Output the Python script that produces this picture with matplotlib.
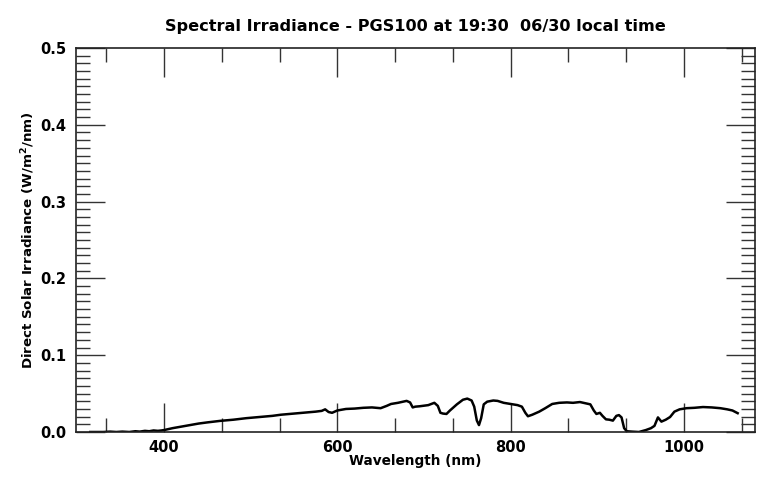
import numpy as np
import matplotlib
matplotlib.use("Agg")
import matplotlib.pyplot as plt
from matplotlib.ticker import MultipleLocator

# Data
wavelength = [315, 322, 330, 338, 345, 352, 360, 367, 372, 378, 383, 388, 393, 397,
              400, 410, 420, 430, 440, 450, 465, 480, 495, 510, 525, 535, 550, 565,
              575, 582, 586, 590, 594, 600, 610, 620, 630, 640, 650, 657, 662, 670,
              680, 684, 687, 690, 695, 705, 712, 716, 719, 722, 726, 730, 738, 745,
              750, 755, 758, 761, 763.5, 766, 769, 773, 780, 785, 792, 800, 808, 813,
              817, 820, 825, 833, 840, 848, 856, 865, 872, 880, 888, 892, 896, 899,
              903, 906, 910, 914, 918, 922, 925, 928, 931, 934, 940, 948, 956, 962,
              966, 970, 974, 979, 984, 989, 995, 1003, 1012, 1022, 1032, 1042, 1050,
              1056, 1062]
irradiance = [0.0, 0.0, 0.0, 0.0005, 0.0, 0.0005, 0.0, 0.001, 0.0005, 0.0015, 0.001,
              0.002, 0.0015, 0.002, 0.0025, 0.005, 0.007, 0.009, 0.011, 0.0125, 0.0145,
              0.016, 0.018, 0.0195, 0.021, 0.0225, 0.024, 0.0255, 0.0265, 0.0275, 0.0295,
              0.026, 0.025, 0.028, 0.030, 0.0305, 0.0315, 0.032, 0.031, 0.034, 0.0365,
              0.038, 0.0405, 0.0385, 0.032, 0.033, 0.0335, 0.035, 0.038, 0.034, 0.025,
              0.024, 0.0235, 0.028, 0.036, 0.042, 0.0435, 0.041, 0.033, 0.015, 0.009,
              0.018, 0.036, 0.0395, 0.041, 0.0405, 0.038, 0.0365, 0.035, 0.033, 0.025,
              0.0205, 0.0225, 0.0265, 0.031, 0.0365, 0.038, 0.0385, 0.038, 0.039, 0.037,
              0.036, 0.028, 0.0235, 0.025, 0.021, 0.0165, 0.016, 0.0148, 0.021, 0.022,
              0.019, 0.005, 0.001, 0.0005, 0.0, 0.0025, 0.005, 0.008, 0.019, 0.0135,
              0.016, 0.0195, 0.0265, 0.0295, 0.031, 0.0315, 0.0325, 0.032, 0.031,
              0.0295, 0.028, 0.0245]

plt.rcParams['font.family'] = ['DejaVu Sans']
plt.rcParams['font.weight'] = 'bold'

fig = plt.figure(figsize=(7.77, 4.80), dpi=100)
ax = fig.add_axes([76 / 777, 48 / 480, (755 - 76) / 777, (432 - 48) / 480])

ax.plot(wavelength, irradiance, color='black', linewidth=1.8)

ax.set_xlim(298.5, 1082)
ax.set_ylim(0, 0.5)
ax.xaxis.set_major_locator(MultipleLocator(200))
ax.xaxis.set_minor_locator(MultipleLocator(200 / 3))
ax.yaxis.set_major_locator(MultipleLocator(0.1))
ax.yaxis.set_minor_locator(MultipleLocator(0.01))
ax.yaxis.set_major_formatter(plt.FuncFormatter(lambda v, p: f"{v:.1f}"))

ax.tick_params(which='both', direction='in', top=True, right=True, color='#333333', width=1)
ax.tick_params(which='major', length=21, labelsize=10.5, pad=6)
ax.tick_params(axis='y', which='major', pad=7)
ax.tick_params(which='minor', length=10)
for s in ax.spines.values():
    s.set_linewidth(1.2)
    s.set_color('#222222')

ax.set_xlabel("Wavelength (nm)", fontsize=9.8, fontweight='bold', labelpad=-1)
ax.set_ylabel("Direct Solar Irradiance (W/m$^\\mathbf{2}$/nm)", fontsize=9.6,
              fontweight='bold', labelpad=2)
ax.set_title("Spectral Irradiance - PGS100 at 19:30  06/30 local time",
             fontsize=11.6, fontweight='bold', pad=12)

fig.savefig("out.png", dpi=100)
